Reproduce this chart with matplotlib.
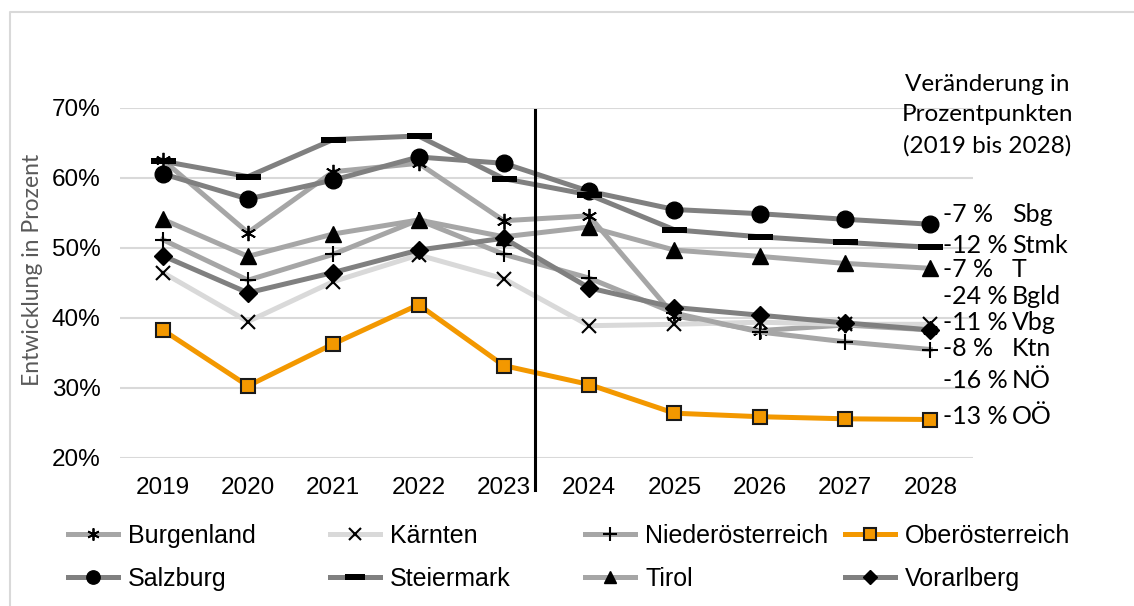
import numpy as np
import matplotlib.pyplot as plt
from matplotlib.path import Path
from matplotlib.lines import Line2D

years = [2019, 2020, 2021, 2022, 2023, 2024, 2025, 2026, 2027, 2028]

burgenland = [62.6, 52.2, 60.9, 62.1, 53.9, 54.6, 40.3, 38.2, 39.0, 38.3]
kaernten = [46.5, 39.5, 45.2, 49.0, 45.6, 38.9, 39.1, 39.4, 39.1, 39.1]
noe = [51.2, 45.4, 49.1, 54.0, 49.1, 45.7, 40.7, 38.0, 36.6, 35.5]
ooe = [38.3, 30.3, 36.3, 41.9, 33.2, 30.5, 26.4, 25.9, 25.6, 25.5]
salzburg = [60.6, 57.0, 59.7, 63.0, 62.1, 58.1, 55.5, 54.9, 54.1, 53.4]
steiermark = [62.4, 60.2, 65.5, 66.0, 59.9, 57.6, 52.6, 51.6, 50.8, 50.1]
tirol = [54.1, 48.8, 52.0, 54.0, 51.6, 53.0, 49.7, 48.8, 47.8, 47.1]
vorarlberg = [48.9, 43.6, 46.5, 49.7, 51.4, 44.3, 41.5, 40.4, 39.3, 38.3]

change_vals = ["-7 %", "-12 %", "-7 %", "-24 %", "-11 %", "-8 %", "-16 %", "-13 %"]
change_names = ["Sbg", "Stmk", "T", "Bgld", "Vbg", "Ktn", "NÖ", "OÖ"]

W, H = 1134, 606
fig = plt.figure(figsize=(W / 100, H / 100), dpi=100)

# outer chart frame (only top and left visible)
fig.add_artist(Line2D([10 / W, 10 / W, 1], [0, 1 - 12 / H, 1 - 12 / H],
                      color="#d9d9d9", lw=1.5, transform=fig.transFigure))

ax = fig.add_axes([120 / W, 1 - 458 / H, 853 / W, 350 / H])

dash = Path([(-1, -0.27), (1, -0.27), (1, 0.27), (-1, 0.27), (-1, -0.27)],
            [Path.MOVETO, Path.LINETO, Path.LINETO, Path.LINETO, Path.CLOSEPOLY])

mid = "#a6a6a6"
dark = "#808080"
light = "#d9d9d9"
orange = "#f39800"

series = [
    ("Burgenland", burgenland, mid, dict(marker=(6, 2, 0), ms=11, mec="black", mew=1.3)),
    ("Kärnten", kaernten, light, dict(marker="x", ms=10, mec="black", mew=1.5)),
    ("Niederösterreich", noe, mid, dict(marker="+", ms=12, mec="black", mew=1.5)),
    ("Oberösterreich", ooe, orange, dict(marker="s", ms=10, mfc=orange, mec="#1a1a1a", mew=1.5)),
    ("Salzburg", salzburg, dark, dict(marker="o", ms=12, mfc="black", mec="black")),
    ("Steiermark", steiermark, dark, dict(marker=dash, ms=18, mfc="black", mec="black", mew=0)),
    ("Tirol", tirol, mid, dict(marker="^", ms=11, mfc="black", mec="black")),
    ("Vorarlberg", vorarlberg, dark, dict(marker="D", ms=9, mfc="black", mec="black")),
]

x = np.arange(len(years))
handles = []
for name, vals, col, mk in series:
    ln, = ax.plot(x, vals, color=col, lw=3.6, label=name, clip_on=False, **mk)
    handles.append(ln)

ax.set_xlim(-0.5, len(years) - 0.5)
ax.set_ylim(20, 70)
ax.set_yticks([20, 30, 40, 50, 60, 70])
ax.set_yticklabels([f"{v}%" for v in [20, 30, 40, 50, 60, 70]])
ax.set_xticks(x)
ax.set_xticklabels([str(y) for y in years])
ax.grid(axis="y", color="#d9d9d9", lw=1.5)
ax.set_axisbelow(True)
for s in ax.spines.values():
    s.set_visible(False)
ax.tick_params(length=0, labelsize=17.5, pad=14)
for lab in ax.get_xticklabels() + ax.get_yticklabels():
    lab.set_fontfamily("Liberation Sans")

# divider between observed and projected years
divider_x = 4.37
ax.plot([divider_x, divider_x], [69.7, 15.4], color="black", lw=2.2, clip_on=False)

fig.text(33 / W, 1 - 270 / H, "Entwicklung in Prozent", rotation=90,
         ha="center", va="center", color="#595959", fontsize=16.5, family="Lato")

fig.text(987 / W, 1 - 115 / H, "Veränderung in\nProzentpunkten\n(2019 bis 2028)",
         ha="center", va="center", fontsize=17.5, family="Lato", linespacing=1.55)

label_y = [215, 245, 270, 297, 323, 349, 380, 417]
for yy, v, n in zip(label_y, change_vals, change_names):
    fig.text(943 / W, 1 - yy / H, v, ha="left", va="center", fontsize=18, family="Lato")
    fig.text(1012 / W, 1 - yy / H, n, ha="left", va="center", fontsize=18, family="Lato")

col_x = [68, 330, 585, 845]
for i, cx in enumerate(col_x):
    fig.legend([handles[i], handles[i + 4]], [series[i][0], series[i + 4][0]],
               loc="upper left", bbox_to_anchor=(cx / W, 1 - 524 / H),
               frameon=False, borderpad=0, borderaxespad=0, markerscale=0.8,
               handlelength=2.0, handletextpad=0.4, labelspacing=0.75,
               prop=dict(family="Liberation Sans", size=18))

fig.savefig("out.png", dpi=100)
